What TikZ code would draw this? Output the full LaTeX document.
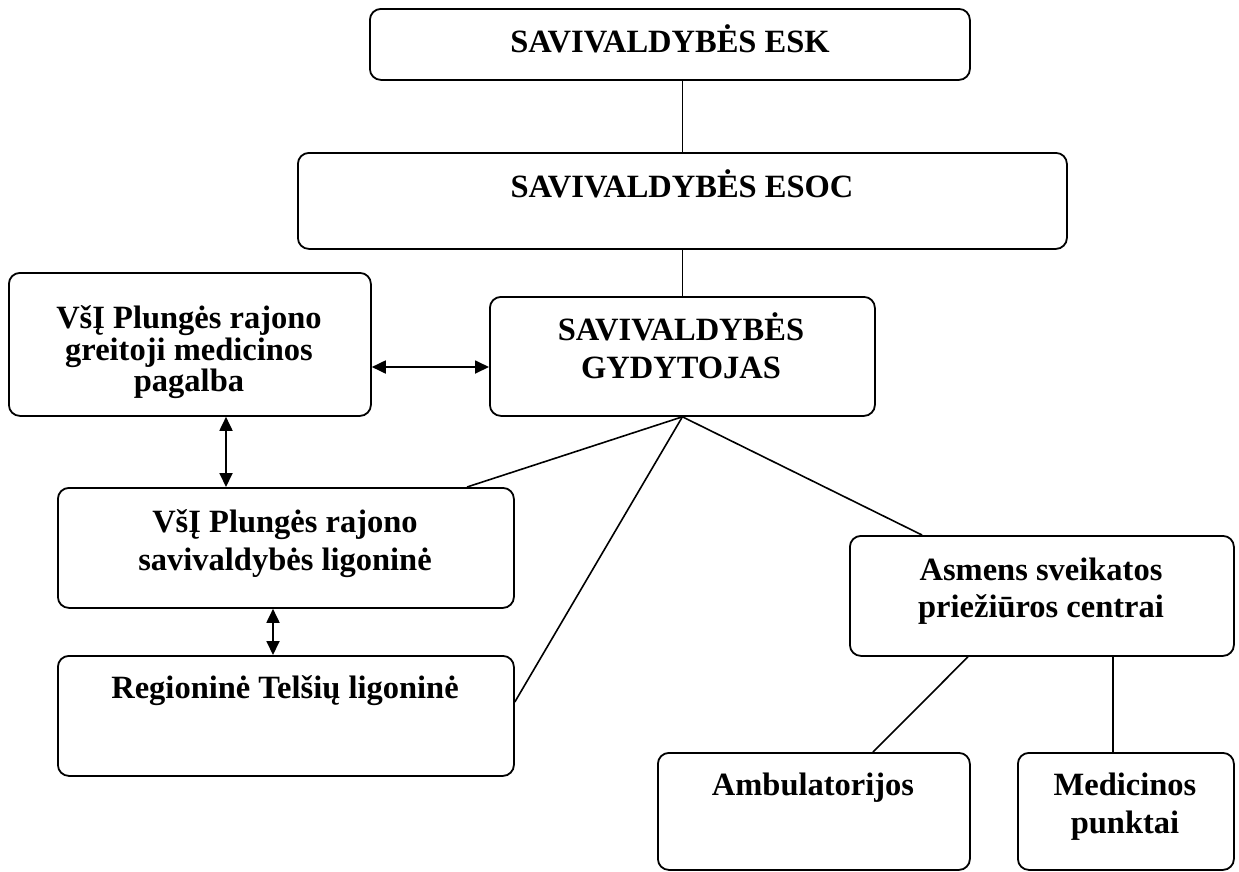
\documentclass[tikz,border=0pt]{standalone}
\usepackage{fontspec}
\setmainfont{Liberation Serif}
\usetikzlibrary{arrows.meta}
\begin{document}
\begin{tikzpicture}[x=1pt,y=-1pt,
  box/.style={draw, line width=1.8pt, rounded corners=11pt, anchor=north west, inner sep=0pt},
  txt/.style={anchor=base, inner sep=0pt, font=\fontsize{32.5}{38}\selectfont\bfseries},
  conn/.style={line width=1.6pt},
  dbl/.style={line width=1.8pt, {Triangle[length=14pt,width=13pt]}-{Triangle[length=14pt,width=13pt]}}]
\useasboundingbox (0,0) rectangle (1239,871);
% boxes
\node[box, minimum width=600pt, minimum height=71pt] (esk) at (369,8) {};
\node[box, minimum width=769pt, minimum height=96pt] (esoc) at (297,152) {};
\node[box, minimum width=362pt, minimum height=143pt] (gmp) at (8,272) {};
\node[box, minimum width=385pt, minimum height=119pt] (gyd) at (489,296) {};
\node[box, minimum width=456pt, minimum height=120pt] (lig) at (57,487) {};
\node[box, minimum width=456pt, minimum height=120pt] (reg) at (57,655) {};
\node[box, minimum width=384pt, minimum height=120pt] (aspc) at (849,535) {};
\node[box, minimum width=312pt, minimum height=117pt] (amb) at (657,752) {};
\node[box, minimum width=216pt, minimum height=117pt] (med) at (1017,752) {};
% texts
\node[txt] (t1) at (670,52) {SAVIVALDYBĖS ESK};
\node[txt] (t2) at (682,197) {SAVIVALDYBĖS ESOC};
\node[txt] (t3a) at (189,328) {VšĮ Plungės rajono};
\node[txt] (t3b) at (189,360) {greitoji medicinos};
\node[txt] (t3c) at (189,391) {pagalba};
\node[txt] (t4a) at (681,340) {SAVIVALDYBĖS};
\node[txt] (t4b) at (681,378) {GYDYTOJAS};
\node[txt] (t5a) at (285,532) {VšĮ Plungės rajono};
\node[txt] (t5b) at (285,570) {savivaldybės ligoninė};
\node[txt] (t6) at (285,698) {Regioninė Telšių ligoninė};
\node[txt] (t7a) at (1041,580) {Asmens sveikatos};
\node[txt] (t7b) at (1041,617) {priežiūros centrai};
\node[txt] (t8) at (813,795) {Ambulatorijos};
\node[txt] (t9a) at (1125,795) {Medicinos};
\node[txt] (t9b) at (1125,833) {punktai};
% helper coordinates
\coordinate (ha) at (0,367);
\coordinate (va1) at (226,0);
\coordinate (va2) at (273,0);
\coordinate (l1) at (467,0);
\coordinate (l2) at (0,702);
\coordinate (l3) at (922,0);
\coordinate (l4) at (968,0);
\coordinate (l5) at (873,0);
\coordinate (l6) at (1113,0);
% connectors
\draw[conn] (esk.south -| gyd.north) -- (esoc.north -| gyd.north);
\draw[conn] (esoc.south -| gyd.north) -- (gyd.north);
\draw[dbl] (gmp.east |- ha) -- (gyd.west |- ha);
\draw[dbl] (gmp.south -| va1) -- (lig.north -| va1);
\draw[dbl] (lig.south -| va2) -- (reg.north -| va2);
\draw[conn] (gyd.south) -- (lig.north -| l1);
\draw[conn] (gyd.south) -- (reg.east |- l2);
\draw[conn] (gyd.south) -- (aspc.north -| l3);
\draw[conn] (aspc.south -| l4) -- (amb.north -| l5);
\draw[conn] (aspc.south -| l6) -- (med.north -| l6);
\end{tikzpicture}
\end{document}
